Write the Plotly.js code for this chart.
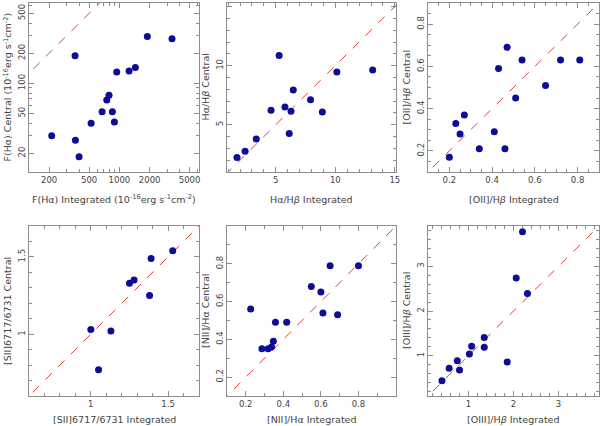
<!DOCTYPE html>
<html>
<head>
<meta charset="utf-8">
<script src="https://cdn.plot.ly/plotly-3.0.1.min.js"></script>
<style>body{margin:0;padding:0;background:#fff;}</style>
</head>
<body>
<div id="plotDiv" style="width:600px;height:426px;"></div>
<script>
"use strict";

// F(Halpha) integrated vs central, 1e-16 erg/s/cm2
var fluxHaIntegrated = [212, 362, 365, 397, 523, 673, 749, 789, 852, 892, 941, 1248, 1443, 1897, 3340];
var fluxHaCentral = [30, 188, 27, 18.5, 40, 52, 68, 76, 52, 41, 130, 133, 144, 293, 279];

var haHbIntegrated = [1.74, 2.42, 3.36, 4.60, 5.28, 5.77, 6.13, 6.28, 6.47, 7.92, 8.91, 10.13, 13.14];
var haHbCentral = [2.22, 2.75, 3.80, 6.22, 10.86, 6.50, 4.25, 6.14, 7.94, 7.11, 6.08, 9.47, 9.64];

var o2HbIntegrated = [0.20, 0.23, 0.25, 0.27, 0.34, 0.41, 0.46, 0.43, 0.47, 0.51, 0.54, 0.65, 0.72, 0.81];
var o2HbCentral = [0.17, 0.33, 0.28, 0.37, 0.21, 0.29, 0.21, 0.59, 0.69, 0.45, 0.63, 0.51, 0.63, 0.63];

var s2RatioIntegrated = [1.00, 1.05, 1.13, 1.25, 1.28, 1.38, 1.39, 1.53];
var s2RatioCentral = [1.03, 0.77, 1.02, 1.33, 1.35, 1.25, 1.49, 1.54];

var n2HaIntegrated = [0.226, 0.286, 0.319, 0.337, 0.347, 0.358, 0.418, 0.549, 0.600, 0.611, 0.689, 0.649, 0.800];
var n2HaCentral = [0.56, 0.35, 0.35, 0.36, 0.39, 0.49, 0.49, 0.68, 0.65, 0.54, 0.53, 0.79, 0.79];

var o3HbIntegrated = [0.41, 0.57, 0.75, 0.80, 1.02, 1.07, 1.35, 1.35, 1.86, 2.06, 2.20, 2.31];
var o3HbCentral = [0.44, 0.72, 0.89, 0.68, 1.04, 1.21, 1.41, 1.19, 0.86, 2.74, 3.77, 2.39];

var fluxTitleX = "F(H\u03b1) Integrated (10<sup>-16</sup>erg s<sup>-1</sup>cm<sup>-2</sup>)";
var fluxTitleY = "F(H\u03b1) Central (10<sup>-16</sup>erg s<sup>-1</sup>cm<sup>-2</sup>)";

var panels = [
    {x: fluxHaIntegrated, y: fluxHaCentral, xt: fluxTitleX, yt: fluxTitleY, log: true,
     xr: [126, 6200], yr: [13, 634], xticks: [200, 500, 1000, 2000, 5000], yticks: [20, 50, 100, 200, 500]},
    {x: haHbIntegrated, y: haHbCentral, xt: "H\u03b1/H<i>\u03b2</i> Integrated", yt: "H\u03b1/H<i>\u03b2</i> Central",
     xr: [0.9, 15.1], yr: [1, 15.3], xticks: [5, 10, 15], yticks: [5, 10, 15], minor: 1},
    {x: o2HbIntegrated, y: o2HbCentral, xt: "[OII]/H<i>\u03b2</i> Integrated", yt: "[OII]/H<i>\u03b2</i> Central",
     xr: [0.1, 0.9], yr: [0.1, 0.9], xticks: [0.2, 0.4, 0.6, 0.8], yticks: [0.2, 0.4, 0.6, 0.8], minor: 0.05},
    {x: s2RatioIntegrated, y: s2RatioCentral, xt: "[SII]6717/6731 Integrated", yt: "[SII]6717/6731 Central",
     xr: [0.6, 1.7], yr: [0.6, 1.7], xticks: [1, 1.5], yticks: [1, 1.5], minor: 0.1},
    {x: n2HaIntegrated, y: n2HaCentral, xt: "[NII]/H\u03b1 Integrated", yt: "[NII]/H\u03b1 Central",
     xr: [0.1, 1.0], yr: [0.1, 1.0], xticks: [0.2, 0.4, 0.6, 0.8], yticks: [0.2, 0.4, 0.6, 0.8], minor: 0.1},
    {x: o3HbIntegrated, y: o3HbCentral, xt: "[OIII]/H<i>\u03b2</i> Integrated", yt: "[OIII]/H<i>\u03b2</i> Central",
     xr: [0.1, 3.9], yr: [0.1, 3.9], xticks: [1, 2, 3], yticks: [1, 2, 3], minor: 0.2}
];

// pixel boxes of each panel (left, right, top, bottom)
var colsPx = [[29, 199], [227, 396], [428, 599]];
var rowsPx = [[3, 172], [226, 396]];
var xTitleRowPx = [199, 419];
var W = 600, H = 426;

var fontFamily = "DejaVu Sans, sans-serif";
var textColor = "#444";
var boxColor = "#8c8c8c";

function logMinorVals(lo, hi) {
    var vals = [];
    for (var d = 1; d <= 10000; d *= 10) {
        for (var m = 1; m < 10; m++) {
            var v = m * d;
            if (v > lo && v < hi) vals.push(v);
        }
    }
    return vals;
}

var data = [];
var annotations = [];
var layout = {
    width: W, height: H,
    margin: {l: 0, r: 0, t: 0, b: 0},
    paper_bgcolor: "#fff", plot_bgcolor: "#fff",
    showlegend: false,
    font: {family: fontFamily, size: 9, color: textColor}
};

panels.forEach(function (p, i) {
    var col = colsPx[i % 3], row = rowsPx[Math.floor(i / 3)];
    var sfx = i === 0 ? "" : String(i + 1);
    var xa = "x" + sfx, ya = "y" + sfx;

    var lineEnds = p.log ? [10, 100000] : [-10, 20];
    data.push({
        x: lineEnds, y: lineEnds, xaxis: xa, yaxis: ya,
        type: "scatter", mode: "lines",
        line: {color: "#e23c3c", width: 1, dash: "dash"},
        hoverinfo: "skip"
    });
    data.push({
        x: p.x, y: p.y, xaxis: xa, yaxis: ya,
        type: "scatter", mode: "markers",
        marker: {color: "#0c0c96", size: 7}
    });

    var common = {
        showgrid: false, zeroline: false,
        showline: true, linecolor: boxColor, linewidth: 1, mirror: "allticks",
        ticks: "inside", ticklen: 5, tickcolor: boxColor, tickwidth: 1,
        tickfont: {family: fontFamily, size: 8.5, color: textColor},
        tickmode: "array"
    };
    var xaxis = Object.assign({}, common, {
        domain: [col[0] / W, col[1] / W],
        anchor: ya,
        range: p.log ? [Math.log10(p.xr[0]), Math.log10(p.xr[1])] : p.xr,
        type: p.log ? "log" : "linear",
        tickvals: p.xticks, ticktext: p.xticks.map(String)
    });
    var yaxis = Object.assign({}, common, {
        domain: [1 - row[1] / H, 1 - row[0] / H],
        anchor: xa,
        range: p.log ? [Math.log10(p.yr[0]), Math.log10(p.yr[1])] : p.yr,
        type: p.log ? "log" : "linear",
        tickvals: p.yticks, ticktext: p.yticks.map(String),
        tickangle: -90
    });
    if (p.log) {
        xaxis.minor = {tickmode: "array", tickvals: logMinorVals(p.xr[0], p.xr[1]), ticklen: 3, tickcolor: boxColor, ticks: "inside"};
        yaxis.minor = {tickmode: "array", tickvals: logMinorVals(p.yr[0], p.yr[1]), ticklen: 3, tickcolor: boxColor, ticks: "inside"};
    } else {
        xaxis.minor = {dtick: p.minor, tick0: 0, ticklen: 3, tickcolor: boxColor, ticks: "inside"};
        yaxis.minor = {dtick: p.minor, tick0: 0, ticklen: 3, tickcolor: boxColor, ticks: "inside"};
    }
    layout["xaxis" + sfx] = xaxis;
    layout["yaxis" + sfx] = yaxis;

    // axis titles as paper annotations so they sit clear of the tick labels
    annotations.push({
        xref: "paper", yref: "paper",
        x: (col[0] + col[1]) / 2 / W, y: 1 - xTitleRowPx[Math.floor(i / 3)] / H,
        xanchor: "center", yanchor: "middle", showarrow: false,
        text: p.xt, font: {family: fontFamily, size: 9.5, color: textColor}
    });
    annotations.push({
        xref: "paper", yref: "paper",
        x: (col[0] - 22) / W, y: 1 - (row[0] + row[1]) / 2 / H,
        xanchor: "center", yanchor: "middle", showarrow: false, textangle: -90,
        text: p.yt, font: {family: fontFamily, size: 9.5, color: textColor}
    });
});
layout.annotations = annotations;

Plotly.newPlot("plotDiv", data, layout, {staticPlot: true});
</script>
</body>
</html>
